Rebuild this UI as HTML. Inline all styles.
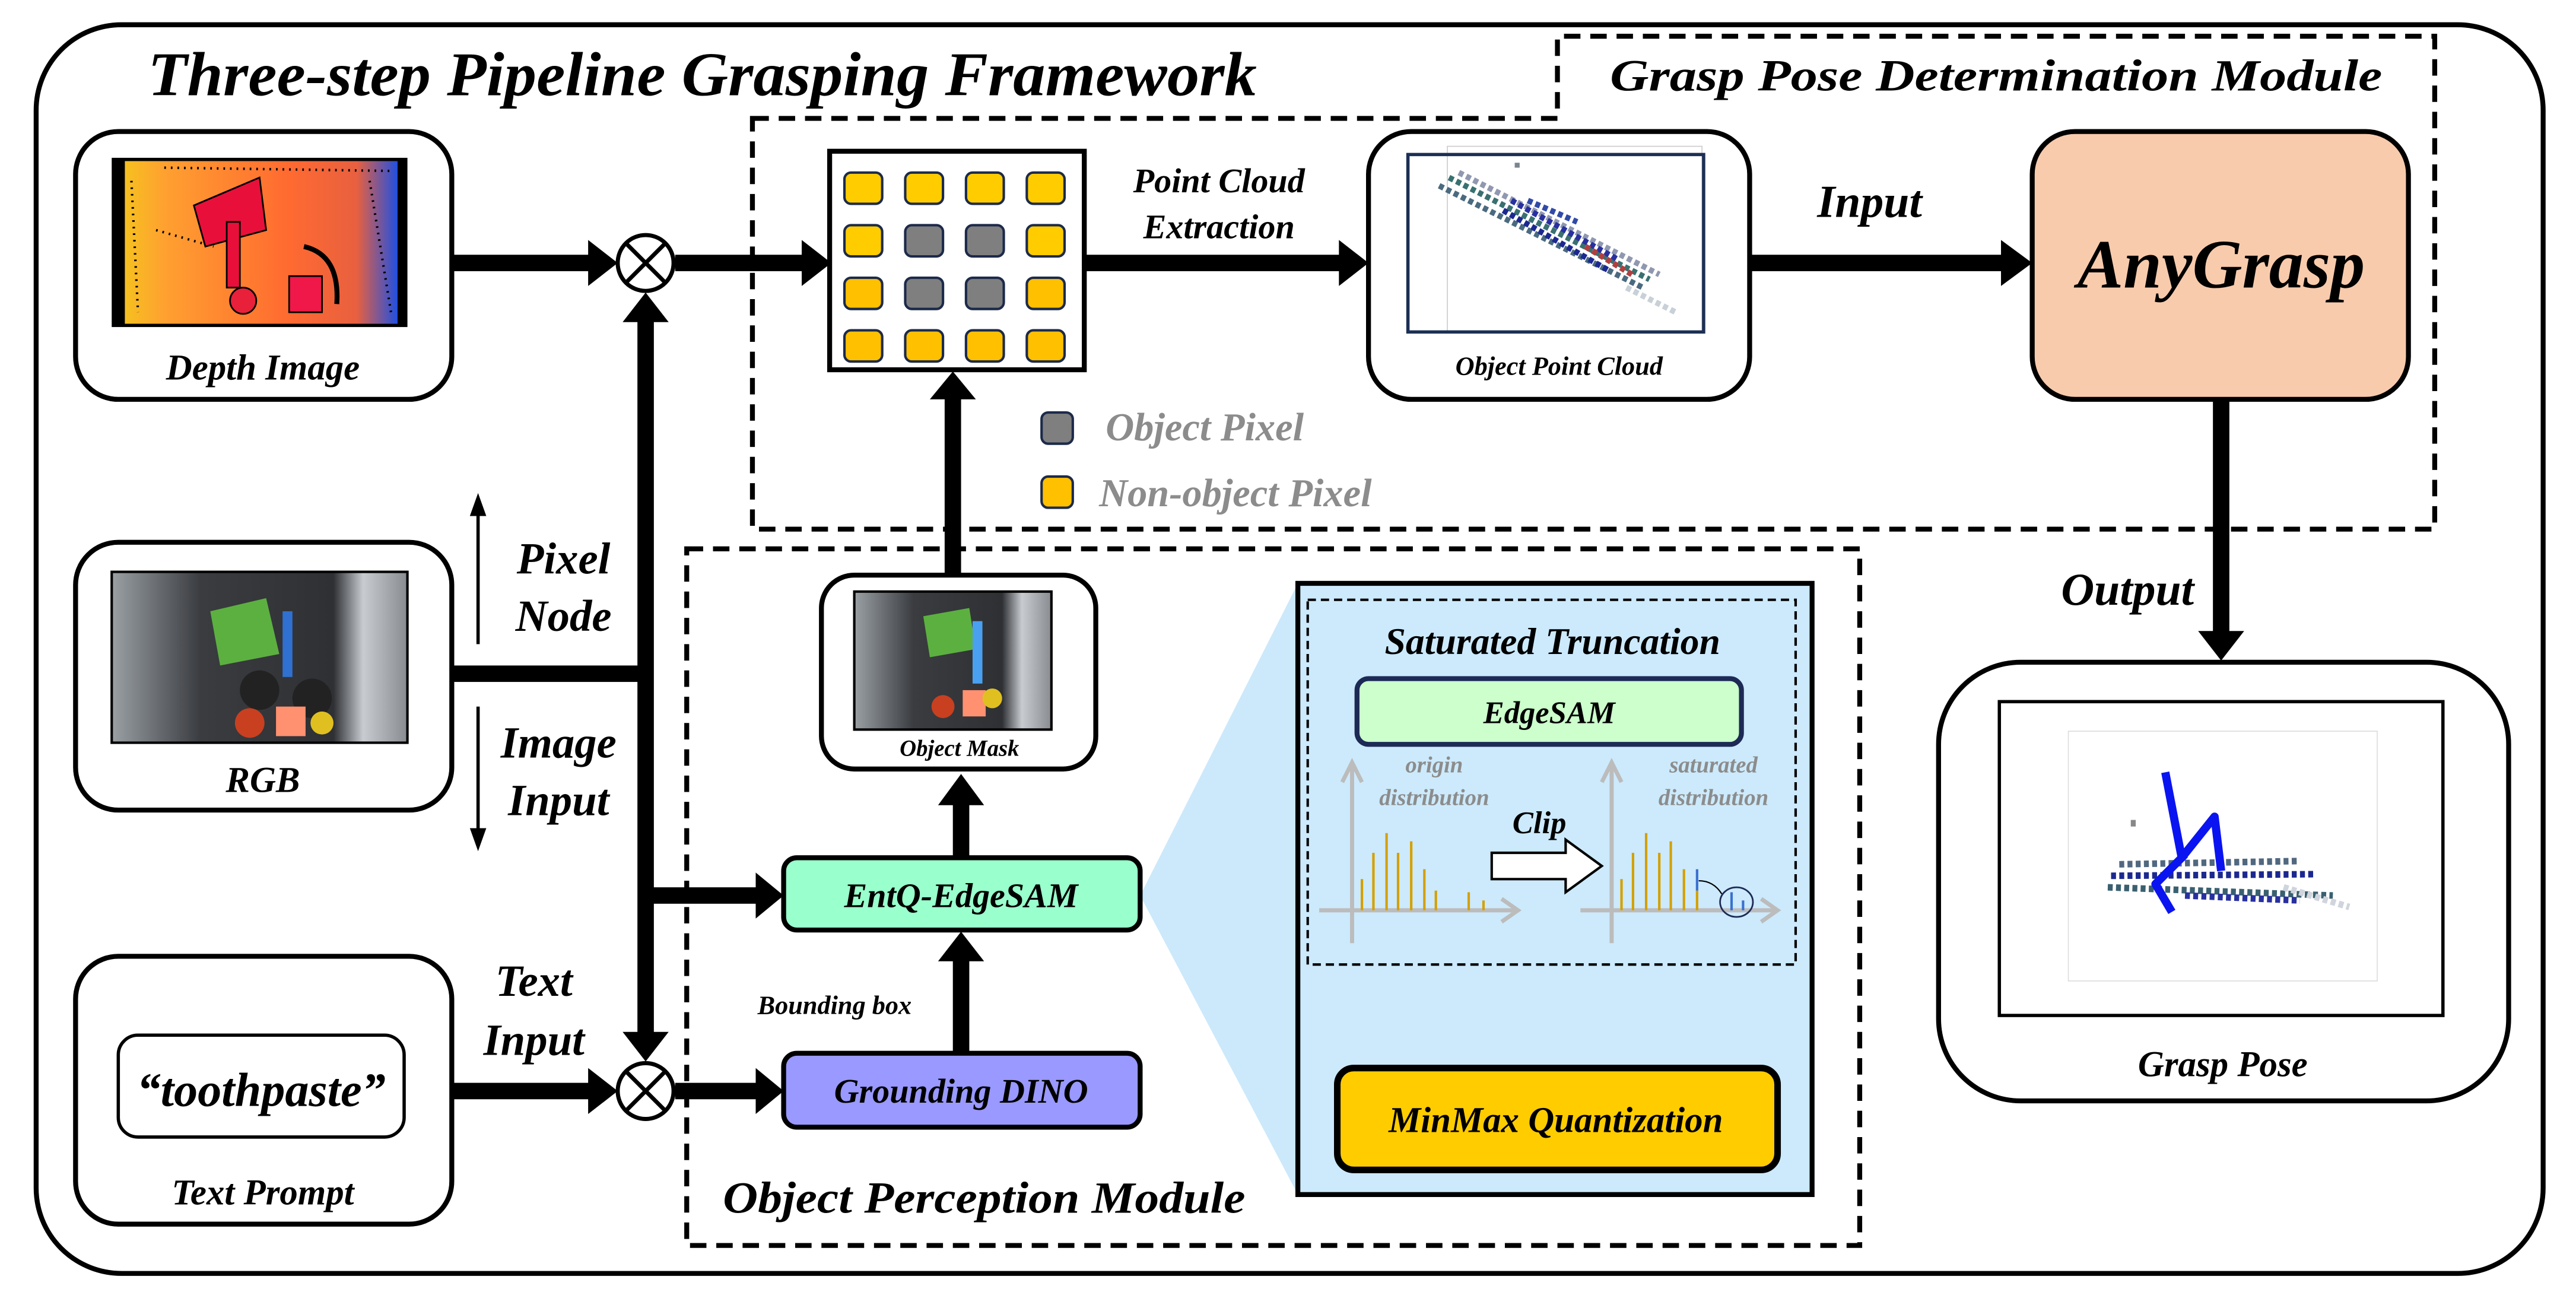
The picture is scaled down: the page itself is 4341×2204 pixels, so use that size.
<!DOCTYPE html>
<html><head><meta charset="utf-8"><style>
html,body{margin:0;padding:0;background:#fff;}
svg{display:block;font-family:"Liberation Serif","DejaVu Serif",serif;}
svg text{font-family:"Liberation Serif","DejaVu Serif",serif;font-weight:bold;font-style:italic;}
</style></head><body>
<svg width="4341" height="2204" viewBox="0 0 1568 796" xmlns="http://www.w3.org/2000/svg" font-family="Liberation Serif, DejaVu Serif, serif">
<rect x="0" y="0" width="1568" height="796" fill="#fff"/>
<rect x="22" y="15" width="1526" height="760" rx="52" fill="none" stroke="#000" stroke-width="3"/>
<text x="90" y="58" font-size="38" textLength="675" lengthAdjust="spacingAndGlyphs">Three-step Pipeline Grasping Framework</text>

<path d="M458,72 H948 V22 H1482 V322 H458 Z" fill="none" stroke="#000" stroke-width="3" stroke-dasharray="10,6"/>
<text x="980" y="55" font-size="27" textLength="470" lengthAdjust="spacingAndGlyphs">Grasp Pose Determination Module</text>

<rect x="418" y="334" width="714" height="424" fill="none" stroke="#000" stroke-width="3" stroke-dasharray="10,6"/>
<text x="440" y="738" font-size="27" textLength="318" lengthAdjust="spacingAndGlyphs">Object Perception Module</text>

<polygon points="694,545 790,355 790,727" fill="#cce9fb"/>

<rect x="46" y="80" width="229" height="163" rx="26" fill="#fff" stroke="#000" stroke-width="3"/>
<defs>
<linearGradient id="dg" x1="0" y1="0" x2="1" y2="0">
<stop offset="0" stop-color="#f6c020"/><stop offset="0.15" stop-color="#ffa030"/><stop offset="0.6" stop-color="#ff6a30"/><stop offset="0.85" stop-color="#e86040"/><stop offset="1" stop-color="#2050e0"/>
</linearGradient>
<linearGradient id="rg" x1="0" y1="0" x2="1" y2="0">
<stop offset="0" stop-color="#9aa0a4"/><stop offset="0.3" stop-color="#3a3c40"/><stop offset="0.75" stop-color="#2e3034"/><stop offset="0.85" stop-color="#c8ccd0"/><stop offset="1" stop-color="#888c90"/>
</linearGradient>
</defs>
<rect x="68" y="96" width="180" height="103" fill="#000"/>
<rect x="76" y="98" width="166" height="99" fill="url(#dg)"/>
<g stroke="#000" stroke-width="1.5" stroke-dasharray="1,3" fill="none">
<line x1="100" y1="102" x2="240" y2="104"/><line x1="225" y1="110" x2="238" y2="190"/><line x1="80" y1="110" x2="84" y2="190"/><line x1="95" y1="140" x2="130" y2="150"/>
</g>
<polygon points="118,125 158,108 162,140 125,150" fill="#e8103a" stroke="#000" stroke-width="1"/>
<rect x="138" y="135" width="8" height="40" fill="#e8103a" stroke="#000" stroke-width="1"/>
<circle cx="148" cy="183" r="8" fill="#e8203a" stroke="#000"/>
<rect x="176" y="168" width="20" height="22" fill="#f01848" stroke="#000"/>
<path d="M185,150 q22,5 20,35" fill="none" stroke="#000" stroke-width="3"/>
<text x="160" y="231" font-size="22" text-anchor="middle">Depth Image</text>

<rect x="46" y="330" width="229" height="163" rx="26" fill="#fff" stroke="#000" stroke-width="3"/>
<rect x="68" y="348" width="180" height="104" fill="url(#rg)" stroke="#000" stroke-width="1.5"/>
<polygon points="128,372 162,364 170,398 134,405" fill="#5cb040"/>
<rect x="172" y="372" width="6" height="40" fill="#3070d0"/>
<circle cx="158" cy="420" r="12" fill="#222"/>
<circle cx="190" cy="425" r="12" fill="#222"/>
<circle cx="152" cy="440" r="9" fill="#c84020"/>
<rect x="168" y="430" width="18" height="18" fill="#ff9070"/>
<circle cx="196" cy="440" r="7" fill="#e0c020"/>
<text x="160" y="482" font-size="22" text-anchor="middle">RGB</text>

<rect x="46" y="582" width="229" height="163" rx="26" fill="#fff" stroke="#000" stroke-width="3"/>
<rect x="72" y="630" width="174" height="62" rx="12" fill="#fff" stroke="#000" stroke-width="2"/>
<text x="159" y="673" font-size="29" text-anchor="middle">“toothpaste”</text>
<text x="160" y="733" font-size="22" text-anchor="middle">Text Prompt</text>

<g fill="#000">
<rect x="275" y="155" width="86" height="10"/><polygon points="358,146 376,160 358,174"/>
<rect x="411" y="155" width="80" height="10"/><polygon points="488,146 506,160 488,174"/>
<rect x="388" y="194" width="10" height="436"/>
<polygon points="379,196 393,178 407,196"/>
<polygon points="379,628 393,646 407,628"/>
<rect x="275" y="405" width="118" height="10"/>
<rect x="393" y="540" width="70" height="10"/><polygon points="460,531 477,545 460,559"/>
<rect x="275" y="659" width="86" height="10"/><polygon points="358,650 376,664 358,678"/>
<rect x="411" y="659" width="52" height="10"/><polygon points="460,650 477,664 460,678"/>
<rect x="575" y="240" width="10" height="110"/><polygon points="566,243 580,226 594,243"/>
<rect x="580" y="488" width="10" height="34"/><polygon points="571,490 585,471 599,490"/>
<rect x="580" y="584" width="10" height="56"/><polygon points="571,585 585,567 599,585"/>
<rect x="660" y="155" width="158" height="10"/><polygon points="815,146 833,160 815,174"/>
<rect x="1065" y="155" width="156" height="10"/><polygon points="1218,146 1237,160 1218,174"/>
<rect x="1347" y="243" width="10" height="143"/><polygon points="1338,384 1352,402 1366,384"/>
<rect x="940" y="588" width="11" height="44"/><polygon points="930,630 945.5,650 961,630"/>
</g>

<g fill="#fff" stroke="#000" stroke-width="2.5">
<circle cx="393" cy="160" r="17"/>
<line x1="381" y1="148" x2="405" y2="172"/><line x1="405" y1="148" x2="381" y2="172"/>
<circle cx="393" cy="664" r="17"/>
<line x1="381" y1="652" x2="405" y2="676"/><line x1="405" y1="652" x2="381" y2="676"/>
</g>

<line x1="291" y1="392" x2="291" y2="312" stroke="#000" stroke-width="2"/>
<polygon points="286,314 291,300 296,314" fill="#000"/>
<line x1="291" y1="430" x2="291" y2="506" stroke="#000" stroke-width="2"/>
<polygon points="286,504 291,518 296,504" fill="#000"/>
<text x="343" y="349" font-size="27" text-anchor="middle">Pixel</text>
<text x="343" y="384" font-size="27" text-anchor="middle">Node</text>
<text x="340" y="461" font-size="27" text-anchor="middle">Image</text>
<text x="340" y="496" font-size="27" text-anchor="middle">Input</text>
<text x="325" y="606" font-size="27" text-anchor="middle">Text</text>
<text x="325" y="642" font-size="27" text-anchor="middle">Input</text>

<rect x="505" y="92" width="155" height="133" fill="#fff" stroke="#000" stroke-width="3"/>
<g stroke="#1c2a4a" stroke-width="1.5">
<rect x="514" y="105" width="23" height="19" rx="4" fill="#ffcc00"/><rect x="551" y="105" width="23" height="19" rx="4" fill="#ffcc00"/><rect x="588" y="105" width="23" height="19" rx="4" fill="#ffcc00"/><rect x="625" y="105" width="23" height="19" rx="4" fill="#ffcc00"/>
<rect x="514" y="137" width="23" height="19" rx="4" fill="#ffcc00"/><rect x="551" y="137" width="23" height="19" rx="4" fill="#7f7f7f"/><rect x="588" y="137" width="23" height="19" rx="4" fill="#7f7f7f"/><rect x="625" y="137" width="23" height="19" rx="4" fill="#ffcc00"/>
<rect x="514" y="169" width="23" height="19" rx="4" fill="#ffc000"/><rect x="551" y="169" width="23" height="19" rx="4" fill="#7f7f7f"/><rect x="588" y="169" width="23" height="19" rx="4" fill="#7f7f7f"/><rect x="625" y="169" width="23" height="19" rx="4" fill="#ffc000"/>
<rect x="514" y="201" width="23" height="19" rx="4" fill="#ffc000"/><rect x="551" y="201" width="23" height="19" rx="4" fill="#ffc000"/><rect x="588" y="201" width="23" height="19" rx="4" fill="#ffc000"/><rect x="625" y="201" width="23" height="19" rx="4" fill="#ffc000"/>
<rect x="634" y="251" width="19" height="19" rx="4" fill="#7f7f7f"/>
<rect x="634" y="290" width="19" height="19" rx="4" fill="#ffc000"/>
</g>
<text x="673" y="268" font-size="24" fill="#8c8c8c">Object Pixel</text>
<text x="669" y="308" font-size="24" fill="#8c8c8c">Non-object Pixel</text>

<text x="742" y="117" font-size="21" text-anchor="middle">Point Cloud</text>
<text x="742" y="145" font-size="21" text-anchor="middle">Extraction</text>

<rect x="833" y="80" width="232" height="163" rx="26" fill="#fff" stroke="#000" stroke-width="3"/>
<rect x="881" y="89" width="155" height="113" fill="none" stroke="#ccc" stroke-width="0.6"/>
<rect x="857" y="94" width="180" height="108" fill="none" stroke="#1c2f55" stroke-width="2"/>
<g stroke-width="3.5" stroke-dasharray="3,2" fill="none">
<line x1="876" y1="113" x2="1000" y2="175" stroke="#4a6a80"/>
<line x1="882" y1="108" x2="1004" y2="170" stroke="#3a7070"/>
<line x1="888" y1="105" x2="1010" y2="167" stroke="#9098b0"/>
<line x1="915" y1="128" x2="980" y2="165" stroke="#1c2890"/>
<line x1="920" y1="122" x2="985" y2="158" stroke="#2830a0"/>
<line x1="930" y1="122" x2="960" y2="135" stroke="#304aa8"/>
<line x1="965" y1="150" x2="995" y2="168" stroke="#b04040"/>
<line x1="990" y1="175" x2="1020" y2="190" stroke="#c8d0d8"/>
</g>
<rect x="922" y="99" width="3" height="3" fill="#7a8590"/>
<text x="949" y="228" font-size="16" text-anchor="middle">Object Point Cloud</text>

<text x="1138" y="132" font-size="28" text-anchor="middle">Input</text>

<rect x="1237" y="80" width="229" height="163" rx="26" fill="#f8cbad" stroke="#000" stroke-width="3"/>
<text x="1352" y="175" font-size="42" text-anchor="middle">AnyGrasp</text>

<text x="1295" y="368" font-size="28" text-anchor="middle">Output</text>

<rect x="1180" y="403" width="347" height="267" rx="50" fill="#fff" stroke="#000" stroke-width="3"/>
<rect x="1217" y="427" width="270" height="191" fill="#fff" stroke="#000" stroke-width="2"/>
<rect x="1259" y="445" width="188" height="152" fill="none" stroke="#ddd" stroke-width="0.6"/>
<g stroke-width="4" stroke-dasharray="3,2" fill="none">
<line x1="1283" y1="540" x2="1420" y2="545" stroke="#3a6070"/>
<line x1="1285" y1="533" x2="1410" y2="532" stroke="#1c2890"/>
<line x1="1290" y1="526" x2="1400" y2="524" stroke="#506880"/>
<line x1="1330" y1="545" x2="1400" y2="548" stroke="#2830a0"/>
<line x1="1390" y1="540" x2="1430" y2="552" stroke="#d0d4dc"/>
</g>
<rect x="1297" y="499" width="3" height="4" fill="#888"/>
<polyline points="1318,470 1328,522 1348,497 1352,530" fill="none" stroke="#0a14f0" stroke-width="5" stroke-linejoin="round"/>
<polyline points="1330,520 1312,538 1322,555" fill="none" stroke="#0a14f0" stroke-width="5" stroke-linejoin="round"/>
<text x="1353" y="655" font-size="22" text-anchor="middle">Grasp Pose</text>

<rect x="500" y="350" width="167" height="118" rx="20" fill="#fff" stroke="#000" stroke-width="3"/>
<rect x="520" y="360" width="120" height="84" fill="url(#rg)" stroke="#000" stroke-width="1.5"/>
<polygon points="562,375 590,370 594,395 566,400" fill="#5cb040"/>
<rect x="592" y="378" width="6" height="38" fill="#4aa0f0"/>
<circle cx="574" cy="430" r="7" fill="#c84020"/>
<rect x="586" y="420" width="14" height="16" fill="#ff9070"/>
<circle cx="604" cy="425" r="6" fill="#e0c020"/>
<text x="584" y="460" font-size="14" text-anchor="middle">Object Mask</text>

<rect x="477" y="522" width="217" height="44" rx="8" fill="#99ffcc" stroke="#000" stroke-width="3"/>
<text x="585" y="552" font-size="21" text-anchor="middle">EntQ-EdgeSAM</text>
<text x="508" y="617" font-size="16" text-anchor="middle">Bounding box</text>
<rect x="477" y="641" width="217" height="45" rx="8" fill="#9999ff" stroke="#000" stroke-width="3"/>
<text x="585" y="671" font-size="21" text-anchor="middle">Grounding DINO</text>

<rect x="790" y="355" width="313" height="372" fill="#cceafc" stroke="#000" stroke-width="3"/>
<rect x="796" y="365" width="297" height="222" fill="none" stroke="#000" stroke-width="1.5" stroke-dasharray="5,3"/>
<text x="945" y="398" font-size="23" text-anchor="middle">Saturated Truncation</text>
<rect x="826" y="413" width="234" height="40" rx="7" fill="#ccffcc" stroke="#1c2a55" stroke-width="3"/>
<text x="943" y="440" font-size="19" text-anchor="middle">EdgeSAM</text>
<g stroke="#bcbcbc" stroke-width="2.5" fill="none">
<line x1="823" y1="466" x2="823" y2="574"/><polyline points="817,476 823,464 829,476"/>
<line x1="803" y1="554" x2="922" y2="554"/><polyline points="914,547 924,554 914,561"/>
<line x1="981" y1="466" x2="981" y2="574"/><polyline points="975,476 981,464 987,476"/>
<line x1="962" y1="554" x2="1080" y2="554"/><polyline points="1072,547 1082,554 1072,561"/>
</g>
<g stroke="#d4a000" stroke-width="1.5">
<line x1="829" y1="535" x2="829" y2="554"/><line x1="836" y1="519" x2="836" y2="554"/><line x1="844" y1="507" x2="844" y2="554"/><line x1="851" y1="519" x2="851" y2="554"/><line x1="859" y1="512" x2="859" y2="554"/><line x1="867" y1="529" x2="867" y2="554"/><line x1="874" y1="542" x2="874" y2="554"/><line x1="894" y1="543" x2="894" y2="554"/><line x1="903" y1="548" x2="903" y2="554"/>
<line x1="987" y1="535" x2="987" y2="554"/><line x1="994" y1="519" x2="994" y2="554"/><line x1="1002" y1="507" x2="1002" y2="554"/><line x1="1010" y1="519" x2="1010" y2="554"/><line x1="1017" y1="512" x2="1017" y2="554"/><line x1="1025" y1="529" x2="1025" y2="554"/><line x1="1033" y1="542" x2="1033" y2="554"/>
</g>
<line x1="1033" y1="529" x2="1033" y2="542" stroke="#3a70d0" stroke-width="1.5"/>
<line x1="1054" y1="543" x2="1054" y2="554" stroke="#3a70d0" stroke-width="1.5"/>
<line x1="1061" y1="548" x2="1061" y2="554" stroke="#3a70d0" stroke-width="1.5"/>
<ellipse cx="1057" cy="549" rx="10" ry="9" fill="none" stroke="#1c2a55" stroke-width="1"/>
<path d="M1048,544 q-5,-8 -14,-8" fill="none" stroke="#000" stroke-width="0.8"/>
<text x="873" y="470" font-size="14" fill="#8c8c8c" text-anchor="middle">origin</text>
<text x="873" y="490" font-size="14" fill="#8c8c8c" text-anchor="middle">distribution</text>
<text x="1043" y="470" font-size="14" fill="#8c8c8c" text-anchor="middle">saturated</text>
<text x="1043" y="490" font-size="14" fill="#8c8c8c" text-anchor="middle">distribution</text>
<text x="937" y="507" font-size="19" text-anchor="middle">Clip</text>
<polygon points="908,519 953,519 953,511 975,527 953,543 953,535 908,535" fill="#fff" stroke="#000" stroke-width="1.5"/>

<rect x="814" y="650" width="268" height="62" rx="10" fill="#ffcc00" stroke="#000" stroke-width="4"/>
<text x="947" y="689" font-size="22" text-anchor="middle">MinMax Quantization</text>
</svg>
</body></html>
